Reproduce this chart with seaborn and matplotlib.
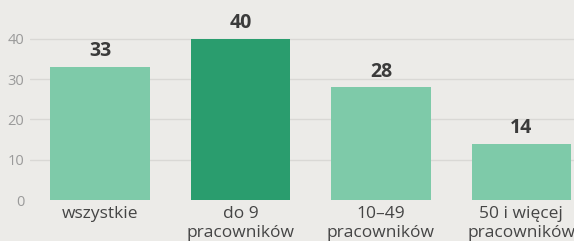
import matplotlib
matplotlib.use("Agg")
import matplotlib.pyplot as plt
import seaborn as sns
import pandas as pd

# data
categories = ["wszystkie", "do 9\npracowników", "10–49\npracowników", "50 i więcej\npracowników"]
values = [33, 40, 28, 14]
bar_colors = ["#7ecaa9", "#2a9d6e", "#7ecaa9", "#7ecaa9"]
y_ticks = [0, 10, 20, 30, 40]

bg = "#ecebe8"
sns.set_theme(style="white")
plt.rcParams["font.family"] = ["Open Sans", "DejaVu Sans"]

df = pd.DataFrame({"kategoria": categories, "wartosc": values})

fig = plt.figure(figsize=(5.74, 2.41), dpi=100, facecolor=bg)
ax = fig.add_axes([0.0518, 0.170, 0.979, 0.752])
ax.set_facecolor(bg)

sns.barplot(data=df, x="kategoria", y="wartosc", hue="kategoria",
            palette=bar_colors, saturation=1, width=0.71, linewidth=0,
            edgecolor="none", legend=False, ax=ax, zorder=2)

ax.set_xlim(-0.5, 3.5)
ax.set_ylim(0, 45)
ax.set_yticks(y_ticks)
for t in y_ticks[1:]:
    ax.axhline(t, color="#d9d8d5", lw=1, zorder=1)

for i, v in enumerate(values):
    ax.text(i, v + 1.4, str(v), ha="center", va="bottom", fontsize=14,
            fontweight="bold", color="#3b3b3b", clip_on=False)

ax.set_xlabel("")
ax.set_ylabel("")
ax.tick_params(axis="y", length=0, pad=4, labelsize=10.5, labelcolor="#9a9a9a")
ax.tick_params(axis="x", length=0, pad=4, labelsize=12.5, labelcolor="#454545")
for lab in ax.get_xticklabels():
    lab.set_linespacing(1.3)
sns.despine(ax=ax, left=True, bottom=True)

fig.savefig("out.png", dpi=100, facecolor=bg)
